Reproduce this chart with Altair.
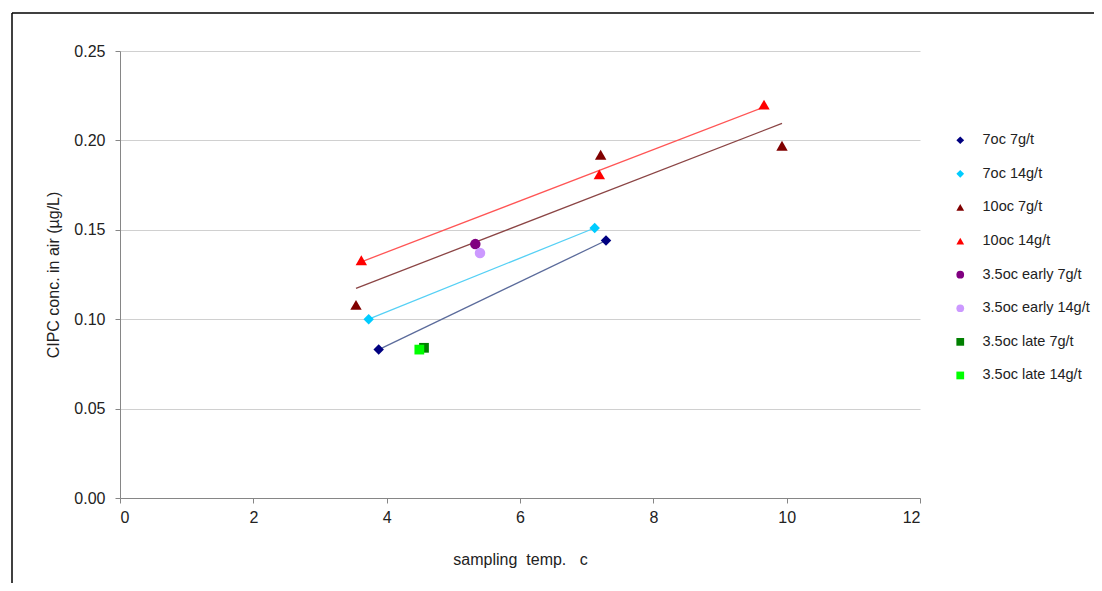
import altair as alt
import pandas as pd

series_names = ["7oc 7g/t", "7oc 14g/t", "10oc 7g/t", "10oc 14g/t",
                "3.5oc early 7g/t", "3.5oc early 14g/t", "3.5oc late 7g/t", "3.5oc late 14g/t"]
marker_colors = ["#000080", "#00CCFF", "#800000", "#FF0000",
                 "#800080", "#CC99FF", "#008000", "#00FF00"]
marker_shapes = ["diamond", "diamond", "triangle-up", "triangle-up",
                 "circle", "circle", "square", "square"]
marker_sizes = [110, 110, 130, 130, 110, 110, 95, 95]

temp_7oc_7 = [3.88, 7.29]
conc_7oc_7 = [0.083, 0.144]
temp_7oc_14 = [3.73, 7.12]
conc_7oc_14 = [0.100, 0.151]
temp_10oc_7 = [3.54, 7.21, 9.93]
conc_10oc_7 = [0.108, 0.192, 0.197]
temp_10oc_14 = [3.62, 7.19, 9.66]
conc_10oc_14 = [0.133, 0.181, 0.220]
temp_early_7 = [5.33]
conc_early_7 = [0.142]
temp_early_14 = [5.40]
conc_early_14 = [0.137]
temp_late_7 = [4.56]
conc_late_7 = [0.084]
temp_late_14 = [4.49]
conc_late_14 = [0.083]

trend_series = ["7oc 7g/t", "7oc 14g/t", "10oc 7g/t", "10oc 14g/t"]
trend_colors = ["#5B6B9B", "#55D0F5", "#8B4545", "#FF5555"]

temps = [temp_7oc_7, temp_7oc_14, temp_10oc_7, temp_10oc_14,
         temp_early_7, temp_early_14, temp_late_7, temp_late_14]
concs = [conc_7oc_7, conc_7oc_14, conc_10oc_7, conc_10oc_14,
         conc_early_7, conc_early_14, conc_late_7, conc_late_14]

rows = []
for name, size, ts, cs in zip(series_names, marker_sizes, temps, concs):
    for t, c in zip(ts, cs):
        rows.append({"series": name, "temp": t, "conc": c, "msize": size})
df = pd.DataFrame(rows)

x_title = "sampling\u00a0\u00a0temp.\u00a0\u00a0\u00a0c"

x_enc = alt.X("temp:Q", title=x_title,
              scale=alt.Scale(domain=[0, 12], nice=False),
              axis=alt.Axis(values=[0, 2, 4, 6, 8, 10, 12], grid=False,
                            titlePadding=26, labelPadding=6))
y_enc = alt.Y("conc:Q", title="CIPC conc. in air (µg/L)",
              scale=alt.Scale(domain=[0, 0.25], nice=False),
              axis=alt.Axis(values=[0, 0.05, 0.10, 0.15, 0.20, 0.25], format=".2f",
                            grid=True, titlePadding=12, labelPadding=10))

trend = alt.Chart(df).transform_filter(
    alt.FieldOneOfPredicate(field="series", oneOf=trend_series)
).transform_regression(
    "temp", "conc", groupby=["series"]
).mark_line(strokeWidth=1.3).encode(
    x=x_enc, y=y_enc,
    stroke=alt.Stroke("series:N", scale=alt.Scale(domain=trend_series, range=trend_colors), legend=None),
)

leg = alt.Legend(title=None, orient="none", legendX=833, legendY=82,
                 labelFontSize=14.5, labelColor="#222222", rowPadding=18.6,
                 symbolSize=60, labelOffset=15)

points = alt.Chart(df).mark_point(filled=True, opacity=1).encode(
    x=x_enc, y=y_enc,
    color=alt.Color("series:N", sort=series_names,
                    scale=alt.Scale(domain=series_names, range=marker_colors),
                    legend=leg),
    shape=alt.Shape("series:N", sort=series_names,
                    scale=alt.Scale(domain=series_names, range=marker_shapes), legend=leg),
    size=alt.Size("msize:Q", scale=None, legend=None),
)

frame_top = alt.Chart(alt.Data(values=[{}])).mark_rule(color="#000000", strokeWidth=1.5).encode(
    x=alt.value(-108), x2=alt.value(1000), y=alt.value(-38))
frame_left = alt.Chart(alt.Data(values=[{}])).mark_rule(color="#000000", strokeWidth=1.5).encode(
    x=alt.value(-108), y=alt.value(-38), y2=alt.value(560))

chart = alt.layer(trend, points, frame_top, frame_left).properties(
    width=800, height=447,
    autosize=alt.AutoSizeParams(type="none"),
    padding={"left": 112, "top": 43, "right": 174, "bottom": 85},
).configure(
    font="Liberation Sans"
).configure_view(
    stroke=None
).configure_axis(
    domainColor="#868686", tickColor="#868686", tickSize=5,
    gridColor="#D0D0D0", labelFontSize=16, labelColor="#222222",
    titleFontSize=16, titleColor="#222222", titleFontWeight="normal"
)

chart.save("out.html", embed_options={"renderer": "svg", "actions": False})
